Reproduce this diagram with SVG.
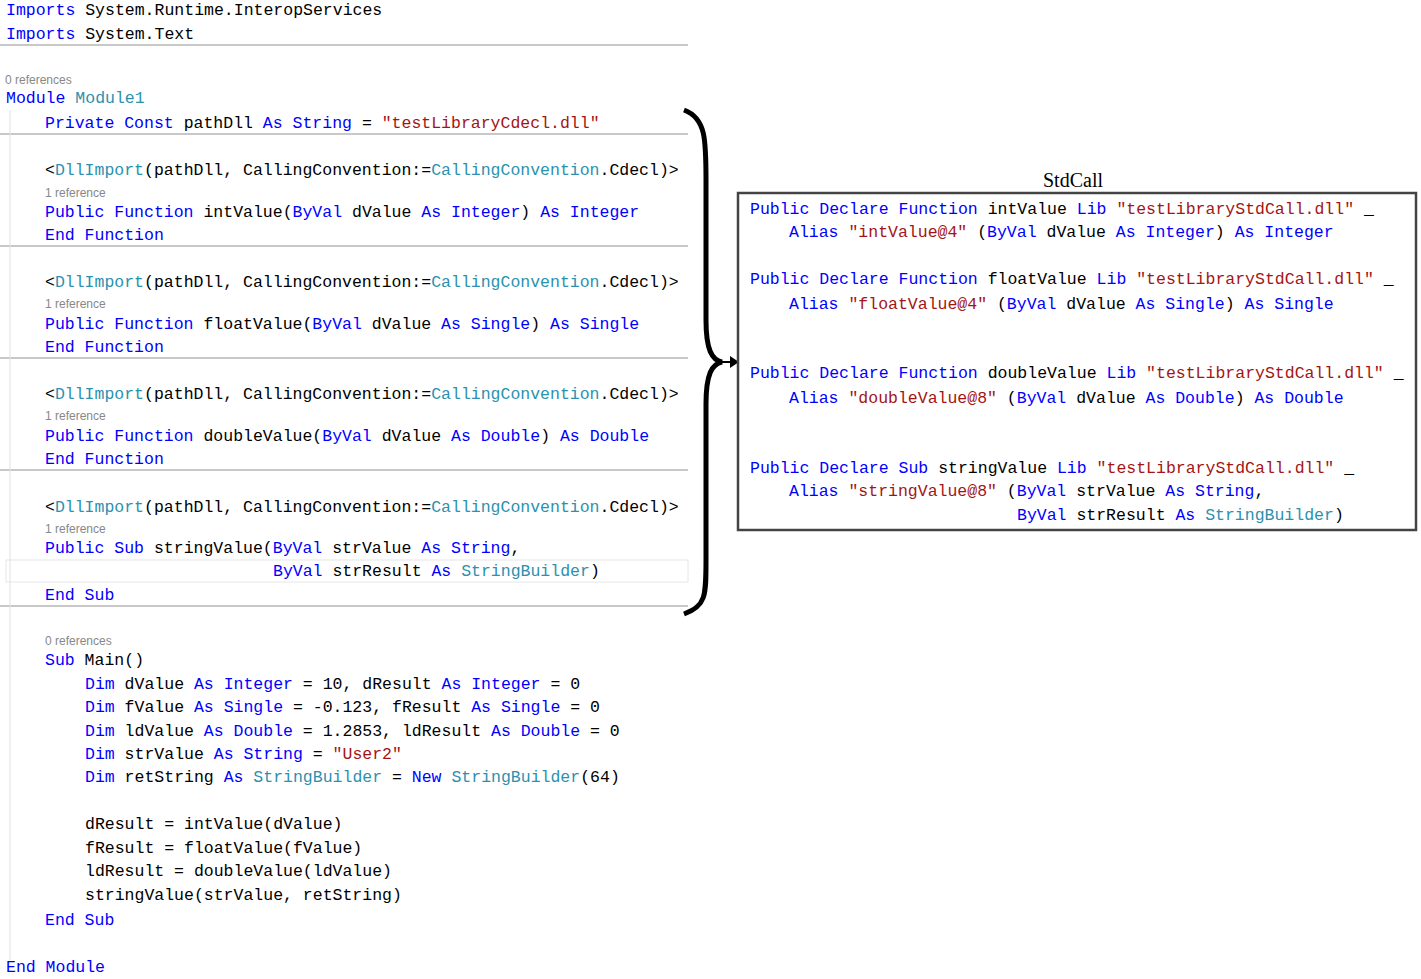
<svg xmlns="http://www.w3.org/2000/svg" width="1421" height="979" viewBox="0 0 1421 979">
<style>
text{font-family:"Liberation Mono",monospace;font-size:16.5px;fill:#000;white-space:pre}
.k{fill:#0000ff}.t{fill:#2b91af}.s{fill:#a31515}
text.r{font-family:"Liberation Sans",sans-serif;font-size:12px;fill:#888}
.sep{stroke:#c8c8c8;stroke-width:2}
</style>
<rect width="1421" height="979" fill="#fff"/>
<g id="separators">
<line class="sep" x1="0" y1="45" x2="688" y2="45"/>
<line class="sep" x1="0" y1="134" x2="688" y2="134"/>
<line class="sep" x1="0" y1="246" x2="688" y2="246"/>
<line class="sep" x1="0" y1="358" x2="688" y2="358"/>
<line class="sep" x1="0" y1="470" x2="688" y2="470"/>
<line class="sep" x1="0" y1="606" x2="688" y2="606"/>
<rect x="6" y="560" width="682" height="22" fill="none" stroke="#e6e6e6"/>
<line x1="10" y1="110" x2="10" y2="960" stroke="#e0e0e0"/>
</g>
<g id="left-code" xml:space="preserve">
<text x="6" y="15"><tspan class="k">Imports</tspan> System.Runtime.InteropServices</text>
<text x="6" y="39"><tspan class="k">Imports</tspan> System.Text</text>
<text class="r" x="5" y="84">0 references</text>
<text x="6" y="103"><tspan class="k">Module</tspan> <tspan class="t">Module1</tspan></text>
<text x="45" y="128"><tspan class="k">Private Const</tspan> pathDll <tspan class="k">As String</tspan> = <tspan class="s">"testLibraryCdecl.dll"</tspan></text>
<text x="45" y="175">&lt;<tspan class="t">DllImport</tspan>(pathDll, CallingConvention:=<tspan class="t">CallingConvention</tspan>.Cdecl)&gt;</text>
<text class="r" x="45" y="197">1 reference</text>
<text x="45" y="217"><tspan class="k">Public Function</tspan> intValue(<tspan class="k">ByVal</tspan> dValue <tspan class="k">As Integer</tspan>) <tspan class="k">As Integer</tspan></text>
<text x="45" y="240"><tspan class="k">End Function</tspan></text>
<text x="45" y="287">&lt;<tspan class="t">DllImport</tspan>(pathDll, CallingConvention:=<tspan class="t">CallingConvention</tspan>.Cdecl)&gt;</text>
<text class="r" x="45" y="308">1 reference</text>
<text x="45" y="329"><tspan class="k">Public Function</tspan> floatValue(<tspan class="k">ByVal</tspan> dValue <tspan class="k">As Single</tspan>) <tspan class="k">As Single</tspan></text>
<text x="45" y="352"><tspan class="k">End Function</tspan></text>
<text x="45" y="399">&lt;<tspan class="t">DllImport</tspan>(pathDll, CallingConvention:=<tspan class="t">CallingConvention</tspan>.Cdecl)&gt;</text>
<text class="r" x="45" y="420">1 reference</text>
<text x="45" y="441"><tspan class="k">Public Function</tspan> doubleValue(<tspan class="k">ByVal</tspan> dValue <tspan class="k">As Double</tspan>) <tspan class="k">As Double</tspan></text>
<text x="45" y="464"><tspan class="k">End Function</tspan></text>
<text x="45" y="512">&lt;<tspan class="t">DllImport</tspan>(pathDll, CallingConvention:=<tspan class="t">CallingConvention</tspan>.Cdecl)&gt;</text>
<text class="r" x="45" y="533">1 reference</text>
<text x="45" y="553"><tspan class="k">Public Sub</tspan> stringValue(<tspan class="k">ByVal</tspan> strValue <tspan class="k">As String</tspan>,</text>
<text x="273" y="576"><tspan class="k">ByVal</tspan> strResult <tspan class="k">As</tspan> <tspan class="t">StringBuilder</tspan>)</text>
<text x="45" y="600"><tspan class="k">End Sub</tspan></text>
<text class="r" x="45" y="645">0 references</text>
<text x="45" y="665"><tspan class="k">Sub</tspan> Main()</text>
<text x="85" y="689"><tspan class="k">Dim</tspan> dValue <tspan class="k">As Integer</tspan> = 10, dResult <tspan class="k">As Integer</tspan> = 0</text>
<text x="85" y="712"><tspan class="k">Dim</tspan> fValue <tspan class="k">As Single</tspan> = -0.123, fResult <tspan class="k">As Single</tspan> = 0</text>
<text x="85" y="736"><tspan class="k">Dim</tspan> ldValue <tspan class="k">As Double</tspan> = 1.2853, ldResult <tspan class="k">As Double</tspan> = 0</text>
<text x="85" y="759"><tspan class="k">Dim</tspan> strValue <tspan class="k">As String</tspan> = <tspan class="s">"User2"</tspan></text>
<text x="85" y="782"><tspan class="k">Dim</tspan> retString <tspan class="k">As</tspan> <tspan class="t">StringBuilder</tspan> = <tspan class="k">New</tspan> <tspan class="t">StringBuilder</tspan>(64)</text>
<text x="85" y="829">dResult = intValue(dValue)</text>
<text x="85" y="853">fResult = floatValue(fValue)</text>
<text x="85" y="876">ldResult = doubleValue(ldValue)</text>
<text x="85" y="900">stringValue(strValue, retString)</text>
<text x="45" y="925"><tspan class="k">End Sub</tspan></text>
<text x="6" y="972"><tspan class="k">End Module</tspan></text>
</g>
<g id="connectors">
<path d="M684,110 C706,118 706,140 706,180 L706,320 C706,350 712,360 722,362 C712,364 706,374 706,404 L706,560 C706,596 706,606 684,614" fill="none" stroke="#000" stroke-width="5"/>
<line x1="722" y1="362" x2="732" y2="362" stroke="#000" stroke-width="2"/>
<path d="M730,356 L739,362 L730,368 Z" fill="#000"/>
</g>
<g id="stdcall" xml:space="preserve">
<text x="1073" y="187" text-anchor="middle" style="font-family:'Liberation Serif',serif;font-size:20px">StdCall</text>
<rect x="738" y="193" width="678" height="337" fill="none" stroke="#444" stroke-width="2.5"/>
<text x="750" y="214"><tspan class="k">Public Declare Function</tspan> intValue <tspan class="k">Lib</tspan> <tspan class="s">"testLibraryStdCall.dll"</tspan> _</text>
<text x="789" y="237"><tspan class="k">Alias</tspan> <tspan class="s">"intValue@4"</tspan> (<tspan class="k">ByVal</tspan> dValue <tspan class="k">As Integer</tspan>) <tspan class="k">As Integer</tspan></text>
<text x="750" y="284"><tspan class="k">Public Declare Function</tspan> floatValue <tspan class="k">Lib</tspan> <tspan class="s">"testLibraryStdCall.dll"</tspan> _</text>
<text x="789" y="309"><tspan class="k">Alias</tspan> <tspan class="s">"floatValue@4"</tspan> (<tspan class="k">ByVal</tspan> dValue <tspan class="k">As Single</tspan>) <tspan class="k">As Single</tspan></text>
<text x="750" y="378"><tspan class="k">Public Declare Function</tspan> doubleValue <tspan class="k">Lib</tspan> <tspan class="s">"testLibraryStdCall.dll"</tspan> _</text>
<text x="789" y="403"><tspan class="k">Alias</tspan> <tspan class="s">"doubleValue@8"</tspan> (<tspan class="k">ByVal</tspan> dValue <tspan class="k">As Double</tspan>) <tspan class="k">As Double</tspan></text>
<text x="750" y="473"><tspan class="k">Public Declare Sub</tspan> stringValue <tspan class="k">Lib</tspan> <tspan class="s">"testLibraryStdCall.dll"</tspan> _</text>
<text x="789" y="496"><tspan class="k">Alias</tspan> <tspan class="s">"stringValue@8"</tspan> (<tspan class="k">ByVal</tspan> strValue <tspan class="k">As String</tspan>,</text>
<text x="1017" y="520"><tspan class="k">ByVal</tspan> strResult <tspan class="k">As</tspan> <tspan class="t">StringBuilder</tspan>)</text>
</g>
</svg>
